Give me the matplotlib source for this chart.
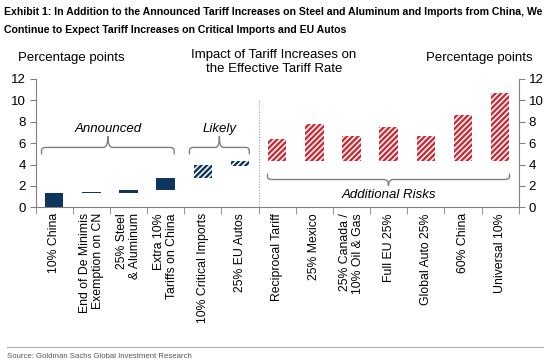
import matplotlib.pyplot as plt
import numpy as np
from matplotlib.path import Path
from matplotlib.patches import PathPatch

plt.rcParams["font.family"] = ["Liberation Sans", "DejaVu Sans"]
plt.rcParams["hatch.linewidth"] = 1.7

# categories (x labels) and the waterfall segments
labels = [
    "10% China",
    "End of De Minimis\nExemption on CN",
    "25% Steel\n& Aluminum",
    "Extra 10%\nTariffs on China",
    "10% Critical Imports",
    "25% EU Autos",
    "Reciprocal Tariff",
    "25% Mexico",
    "25% Canada /\n10% Oil & Gas",
    "Full EU 25%",
    "Global Auto 25%",
    "60% China",
    "Universal 10%",
]
bottoms = [0, 1.3, 1.35, 1.6, 2.7, 3.9, 4.3, 4.3, 4.3, 4.3, 4.3, 4.3, 4.3]
tops = [1.3, 1.4, 1.65, 2.75, 4.0, 4.3, 6.35, 7.75, 6.7, 7.55, 6.7, 8.6, 10.7]
groups = ["Announced"] * 4 + ["Likely"] * 2 + ["Additional Risks"] * 7

navy = "#0c3560"
red = "#cc2a35"
gray = "#808080"

fig = plt.figure(figsize=(5.5, 3.64), dpi=100)
ax = fig.add_axes([0.0647, 0.4305, 0.8785, 0.3525])

x = np.arange(len(labels))
heights = np.array(tops) - np.array(bottoms)
for i in x:
    if groups[i] == "Announced":
        ax.bar(i, heights[i], bottom=bottoms[i], width=0.5, color=navy, linewidth=0)
    else:
        c = navy if groups[i] == "Likely" else red
        ax.bar(i, heights[i], bottom=bottoms[i], width=0.5, facecolor="white",
               edgecolor=c, hatch="//////", linewidth=0)

ax.set_xlim(-0.5, len(labels) - 0.5)
ax.set_ylim(0, 12)
ax.set_yticks(np.arange(0, 13, 2))
ax.tick_params(axis="y", which="both", left=True, right=True, labelleft=True,
               labelright=True, direction="out", length=4, color=gray,
               labelsize=9.5, pad=3)
ax.set_xticks(x)
ax.set_xticklabels([])
ax.tick_params(axis="x", which="major", length=0)
ax.set_xticks(np.arange(-0.5, len(labels)), minor=True)
ax.tick_params(axis="x", which="minor", length=5, color=gray, direction="out")
for s in ["left", "right", "bottom"]:
    ax.spines[s].set_color(gray)
ax.spines["top"].set_visible(False)

# rotated category labels
for i, lab in enumerate(labels):
    ax.text(i, -0.55, lab, rotation=90, ha="center", va="top",
            multialignment="right", fontsize=8.8, linespacing=1.05)

# separator between likely and additional risks
ax.plot([5.5, 5.5], [0, 10.1], color="#a0a0a0", lw=0.8, ls=(0, (1, 1.5)))


def brace(x0, x1, y_end, y_bar, y_tip, rx=0.12):
    xm = (x0 + x1) / 2
    sgn = 1 if y_bar > y_end else -1
    ry = abs(y_bar - y_end) * 0.5
    verts = [
        (x0, y_end), (x0, y_bar - sgn * ry), (x0, y_bar), (x0 + rx, y_bar),
        (xm - rx, y_bar), (xm, y_bar), (xm, y_tip),
        (xm, y_tip), (xm, y_bar), (xm + rx, y_bar),
        (x1 - rx, y_bar), (x1, y_bar), (x1, y_bar - sgn * ry), (x1, y_end),
    ]
    codes = [
        Path.MOVETO, Path.LINETO, Path.CURVE3, Path.CURVE3,
        Path.LINETO, Path.CURVE3, Path.CURVE3,
        Path.MOVETO, Path.CURVE3, Path.CURVE3,
        Path.LINETO, Path.CURVE3, Path.CURVE3, Path.LINETO,
    ]
    ax.add_patch(PathPatch(Path(verts, codes), fill=False, edgecolor=gray, lw=1))


brace(-0.34, 3.23, 4.95, 5.6, 6.65)
ax.text(1.45, 7.3, "Announced", style="italic", ha="center", va="center", fontsize=9.5)
brace(3.64, 5.25, 4.95, 5.6, 6.65, rx=0.1)
ax.text(4.45, 7.3, "Likely", style="italic", ha="center", va="center", fontsize=9.5)
brace(5.74, 12.25, 3.15, 2.6, 2.0)
ax.text(9.0, 1.15, "Additional Risks", style="italic", ha="center", va="center", fontsize=9.5)

# titles
fig.text(4 / 550, 1 - 12 / 364,
         "Exhibit 1: In Addition to the Announced Tariff Increases on Steel and Aluminum and Imports from China, We",
         weight="bold", fontsize=7.55, ha="left", va="center")
fig.text(4 / 550, 1 - 30 / 364,
         "Continue to Expect Tariff Increases on Critical Imports and EU Autos",
         weight="bold", fontsize=7.55, ha="left", va="center")
fig.text(18 / 550, 1 - 58 / 364, "Percentage points", ha="left", va="center", fontsize=9.5)
fig.text(533 / 550, 1 - 58 / 364, "Percentage points", ha="right", va="center", fontsize=9.5)
fig.text(274 / 550, 1 - 62 / 364, "Impact of Tariff Increases on\nthe Effective Tariff Rate",
         ha="center", va="center", fontsize=9.5, linespacing=1.25)

fig.add_artist(plt.Line2D([7 / 550, 543 / 550], [1 - 347 / 364] * 2, color="#b0b0b0", lw=0.8))
fig.text(7 / 550, 1 - 357 / 364, "Source: Goldman Sachs Global Investment Research",
         fontsize=5.6, color="#555555", ha="left", va="center")

fig.savefig("out.png", dpi=100)
